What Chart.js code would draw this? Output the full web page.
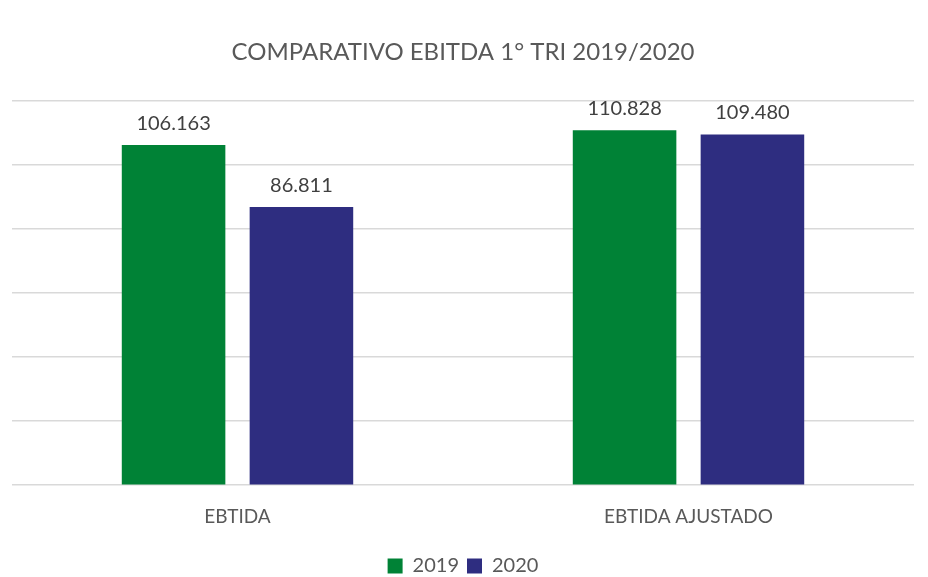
<!DOCTYPE html>
<html>
<head>
<meta charset="utf-8">
<script src="https://cdn.jsdelivr.net/npm/chart.js@4"></script>
<style>
  html, body { margin: 0; padding: 0; background: #fff; }
  #wrap { width: 928px; height: 577px; }
</style>
</head>
<body>
<div id="wrap"><canvas id="ebitda"></canvas></div>
<script>
const categories = ["EBTIDA", "EBTIDA AJUSTADO"];
const values2019 = [106163, 110828];
const values2020 = [86811, 109480];
const seriesNames = ["2019", "2020"];

const fmt = v => (v / 1000).toFixed(3);

// small inline value labels above each bar
const valueLabels = {
  id: "valueLabels",
  afterDatasetsDraw(chart) {
    const c = chart.ctx;
    c.save();
    c.font = "20px Lato";
    c.fillStyle = "#404040";
    c.textAlign = "center";
    c.textBaseline = "bottom";
    chart.data.datasets.forEach((ds, i) => {
      chart.getDatasetMeta(i).data.forEach((bar, j) => {
        c.fillText(fmt(ds.data[j]), bar.x, bar.y - 12);
      });
    });
    c.restore();
  }
};

new Chart(document.getElementById("ebitda").getContext("2d"), {
  type: "bar",
  data: {
    labels: categories,
    datasets: [
      { label: seriesNames[0], data: values2019, backgroundColor: "#008236" },
      { label: seriesNames[1], data: values2020, backgroundColor: "#2e2d80" },
    ],
  },
  options: {
    responsive: true,
    maintainAspectRatio: false,
    animation: false,
    categoryPercentage: 0.567,
    barPercentage: 0.81,
    layout: { padding: { left: 12, right: 14, bottom: -9 } },
    plugins: {
      title: {
        display: true,
        text: "COMPARATIVO EBITDA 1° TRI 2019/2020",
        color: "#595959",
        font: { family: "Lato", size: 24, weight: "normal" },
        padding: { top: 38, bottom: 34 },
      },
      legend: {
        position: "bottom",
        labels: {
          color: "#595959",
          font: { family: "Lato", size: 20 },
          boxWidth: 15,
          boxHeight: 15,
          padding: 8,
        },
      },
      tooltip: { enabled: false },
    },
    scales: {
      x: {
        grid: { display: false, drawTicks: false },
        border: { display: false },
        ticks: {
          color: "#595959",
          font: { family: "Lato", size: 19 },
          padding: 20,
        },
      },
      y: {
        min: 0,
        max: 120000,
        ticks: { display: false, stepSize: 20000 },
        grid: { color: "#d9d9d9", lineWidth: 1.5, drawTicks: false },
        border: { display: false },
      },
    },
  },
  plugins: [valueLabels],
});
</script>
</body>
</html>
